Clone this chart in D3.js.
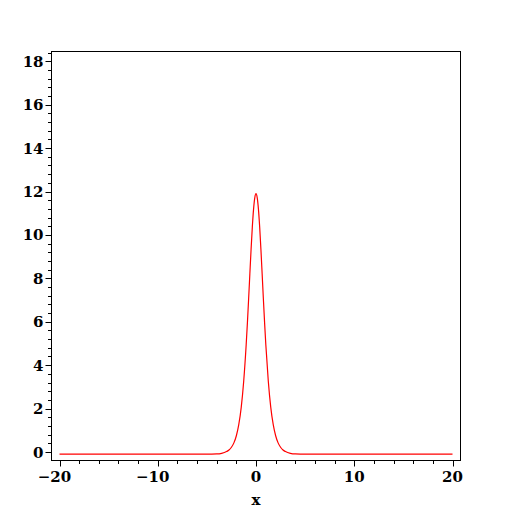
<!DOCTYPE html>
<html><head><meta charset="utf-8">
<script src="https://cdn.jsdelivr.net/npm/d3@7"></script>
<style>body{margin:0;background:#fff}svg{display:block}</style>
</head><body>
<svg id="c" width="512" height="512"></svg>
<script>
// Data
const xs = [-20,-10,-5,-4,-3.5,-3,-2.75,-2.5,-2.25,-2,-1.75,-1.5,-1.25,-1,-0.875,-0.75,-0.625,-0.5,-0.375,-0.25,-0.125,0,
            0.125,0.25,0.375,0.5,0.625,0.75,0.875,1,1.25,1.5,1.75,2,2.25,2.5,2.75,3,3.5,4,5,10,20];
const ys = [-0.1,-0.1,-0.1,-0.09,-0.06,0.02,0.09,0.22,0.42,0.75,1.27,2.07,3.27,4.94,5.95,7.06,8.21,9.34,10.36,11.18,11.71,11.9,
            11.71,11.18,10.36,9.34,8.21,7.06,5.95,4.94,3.27,2.07,1.27,0.75,0.42,0.22,0.09,0.02,-0.06,-0.09,-0.1,-0.1,-0.1];
const xMajor = [-20,-10,0,10,20];
const yMajor = [0,2,4,6,8,10,12,14,16,18];
const xLabel = "x";

const svg = d3.select("#c");
const x = d3.scaleLinear().domain([-20,20]).range([59.5,452.5]);
const y = d3.scaleLinear().domain([0,18]).range([452,61.3]);
const L=51, R=460, T=51, B=460;
const font = "'DejaVu Serif', 'Liberation Serif', serif";

svg.append("rect").attr("x",L+0.5).attr("y",T+0.5).attr("width",R-L).attr("height",B-T)
  .attr("fill","none").attr("stroke","#000").attr("stroke-width",1);

// x ticks
const xMinor = d3.range(-20,20.001,2);
const gx = svg.append("g").attr("transform",`translate(0,${B+0.5})`);
gx.selectAll("line").data(xMinor).join("line")
  .attr("x1",d=>Math.round(x(d))+0.5).attr("x2",d=>Math.round(x(d))+0.5)
  .attr("y1",0).attr("y2",d=>xMajor.includes(d)?6:3.5).attr("stroke","#000");
gx.selectAll("text").data(xMajor).join("text")
  .attr("x",d=>x(d)+(d<0?-5:0)).attr("y",21)
  .attr("text-anchor","middle").attr("font-family",font).attr("font-weight","bold").attr("font-size",15)
  .text(d=>d<0?"\u2212"+(-d):d);

// y ticks
const yMinor = d3.range(0,18.401,0.4).map(v=>+v.toFixed(1));
const gy = svg.append("g").attr("transform",`translate(${L+0.5},0)`);
gy.selectAll("line").data(yMinor).join("line")
  .attr("y1",d=>Math.round(y(d))+0.5).attr("y2",d=>Math.round(y(d))+0.5)
  .attr("x1",0).attr("x2",d=>yMajor.includes(d)?-6:-3.5).attr("stroke","#000");
gy.selectAll("text").data(yMajor).join("text")
  .attr("x",-8).attr("y",d=>y(d)+5.5)
  .attr("text-anchor","end").attr("font-family",font).attr("font-weight","bold").attr("font-size",15)
  .text(d=>d);

svg.append("text").attr("x",256).attr("y",505).attr("text-anchor","middle")
  .attr("font-family",font).attr("font-weight","bold").attr("font-size",15).text(xLabel);

const pts = xs.map((v,i)=>[v,ys[i]]);
svg.append("path").datum(pts)
  .attr("d",d3.line().x(d=>x(d[0])).y(d=>y(d[1])).curve(d3.curveMonotoneX))
  .attr("fill","none").attr("stroke","#ff0000").attr("stroke-width",1.2);
</script>
</body></html>
